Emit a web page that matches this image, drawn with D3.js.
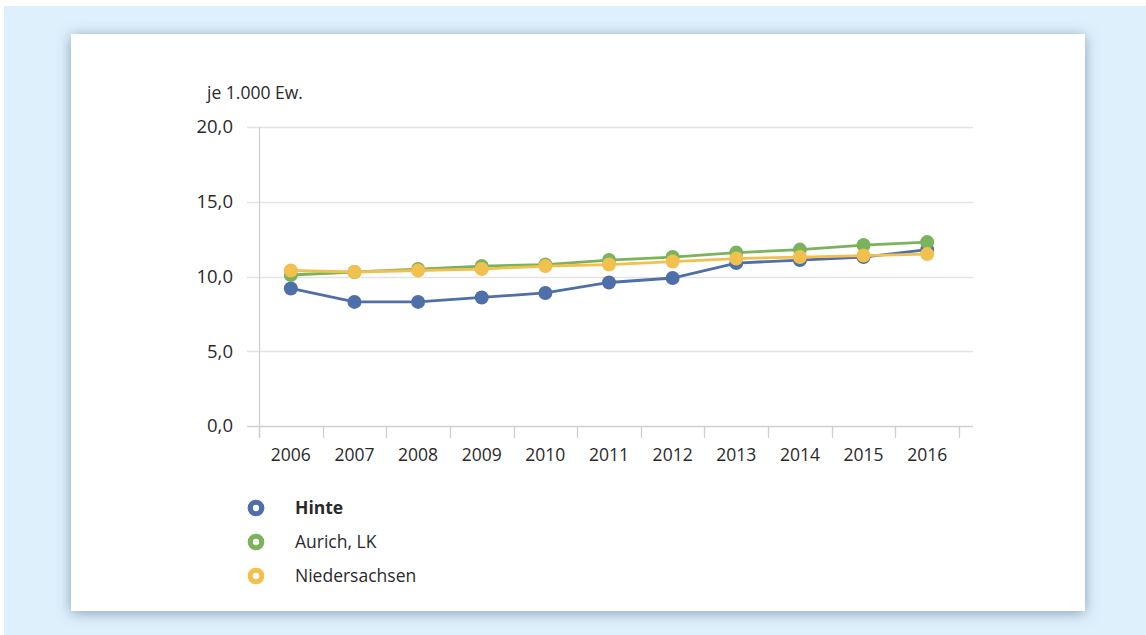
<!DOCTYPE html>
<html>
<head>
<meta charset="utf-8">
<script src="https://cdn.jsdelivr.net/npm/d3@7"></script>
<style>
  html, body { margin: 0; padding: 0; background: #ffffff; }
  svg { display: block; }
</style>
</head>
<body>
<svg id="chart" width="1146" height="635"></svg>
<script>
// Years on the x axis
const years = ["2006","2007","2008","2009","2010","2011","2012","2013","2014","2015","2016"];
// Rates per 1,000 inhabitants
const hinte = [9.2, 8.3, 8.3, 8.6, 8.9, 9.6, 9.9, 10.9, 11.1, 11.3, 11.8];
const aurich = [10.1, 10.3, 10.5, 10.7, 10.8, 11.1, 11.3, 11.6, 11.8, 12.1, 12.3];
const niedersachsen = [10.4, 10.3, 10.4, 10.5, 10.7, 10.8, 11.0, 11.2, 11.3, 11.4, 11.5];
const seriesNames = ["Hinte", "Aurich, LK", "Niedersachsen"];
const seriesColors = ["#4f6fa9", "#7bb35c", "#f1c04f"];
const yTicks = [0, 5, 10, 15, 20];
const unitLabel = "je 1.000 Ew.";

const series = [hinte, aurich, niedersachsen].map((values, i) => ({
  name: seriesNames[i], color: seriesColors[i], values
}));

const svg = d3.select("#chart");
const FONT = "'Open Sans', 'Noto Sans', sans-serif";
const TEXT = "#2a2a2a";

// Page background and card with soft shadow
const defs = svg.append("defs");
const f = defs.append("filter").attr("id", "shadow")
  .attr("x", "-10%").attr("y", "-10%").attr("width", "120%").attr("height", "120%");
f.append("feGaussianBlur").attr("in", "SourceAlpha").attr("stdDeviation", 7).attr("result", "b");
f.append("feOffset").attr("in", "b").attr("dx", 0).attr("dy", 2).attr("result", "o");
f.append("feFlood").attr("flood-color", "#56768f").attr("flood-opacity", 0.65);
f.append("feComposite").attr("in2", "o").attr("operator", "in").attr("result", "s");
const m = f.append("feMerge");
m.append("feMergeNode").attr("in", "s");
m.append("feMergeNode").attr("in", "SourceGraphic");

svg.append("rect").attr("x", 4).attr("y", 6).attr("width", 1142).attr("height", 629)
  .attr("fill", "#def0fc");
svg.append("rect").attr("x", 71).attr("y", 34).attr("width", 1014).attr("height", 577)
  .attr("fill", "#ffffff").attr("filter", "url(#shadow)");

// Scales
const x = d3.scaleBand().domain(years).range([259, 959]);
const y = d3.scaleLinear().domain([0, 20]).range([426, 127]);
const gridRight = 973;

// Gridlines
svg.append("g").selectAll("line").data(yTicks).join("line")
  .attr("x1", 247).attr("x2", gridRight)
  .attr("y1", d => Math.round(y(d)) + 0.5).attr("y2", d => Math.round(y(d)) + 0.5)
  .attr("stroke", d => d === 0 ? "#d0d0d0" : "#e4e4e4").attr("stroke-width", 1.3);

// Y axis line
svg.append("line").attr("x1", 259.5).attr("x2", 259.5).attr("y1", 127).attr("y2", 438)
  .attr("stroke", "#d0d0d0").attr("stroke-width", 1.3);

// Y axis labels
const fmt = d => d3.format(".1f")(d).replace(".", ",");
svg.append("g").selectAll("text").data(yTicks).join("text")
  .attr("x", 233).attr("y", d => y(d)).attr("dy", "0.35em")
  .attr("text-anchor", "end").attr("font-family", FONT).attr("font-size", 18.5)
  .attr("font-weight", 500).attr("fill", TEXT).text(fmt);

// X axis with band-edge ticks
const xAxis = d3.axisBottom(x).tickSize(0).tickPadding(20);
const gx = svg.append("g").attr("transform", "translate(0,426)").call(xAxis);
gx.select(".domain").remove();
gx.selectAll("text").attr("font-family", FONT).attr("font-size", 17.5)
  .attr("font-weight", 500).attr("fill", TEXT)
  .attr("dy", "0.35em").attr("y", 29);
const edges = years.map(d => x(d)).concat([x.range()[1]]);
svg.append("g").selectAll("line").data(edges).join("line")
  .attr("x1", d => Math.round(d) + 0.5).attr("x2", d => Math.round(d) + 0.5)
  .attr("y1", 426).attr("y2", 438).attr("stroke", "#d0d0d0").attr("stroke-width", 1.3);

// Unit label
svg.append("text").attr("x", 207).attr("y", 93).attr("dy", "0.35em")
  .attr("font-family", FONT).attr("font-size", 17.5).attr("font-weight", 500)
  .attr("fill", TEXT).text(unitLabel);

// Lines and markers
const cx = d => x(d) + x.bandwidth() / 2;
const line = d3.line().x((v, i) => cx(years[i])).y(v => y(v));
series.forEach(s => {
  svg.append("path").datum(s.values).attr("d", line)
    .attr("fill", "none").attr("stroke", s.color).attr("stroke-width", 2.8);
  svg.append("g").selectAll("circle").data(s.values).join("circle")
    .attr("cx", (v, i) => cx(years[i])).attr("cy", v => y(v)).attr("r", 7)
    .attr("fill", s.color);
});

// Legend
const lg = svg.append("g").selectAll("g").data(series).join("g")
  .attr("transform", (d, i) => `translate(256,${508 + i * 34})`);
lg.append("circle").attr("r", 5.75).attr("fill", "none")
  .attr("stroke", d => d.color).attr("stroke-width", 5.2);
lg.append("text").attr("x", 39).attr("dy", "0.35em")
  .attr("font-family", FONT).attr("font-size", 17.5)
  .attr("font-weight", (d, i) => i === 0 ? 700 : 500).attr("fill", TEXT).text(d => d.name);
</script>
</body>
</html>
